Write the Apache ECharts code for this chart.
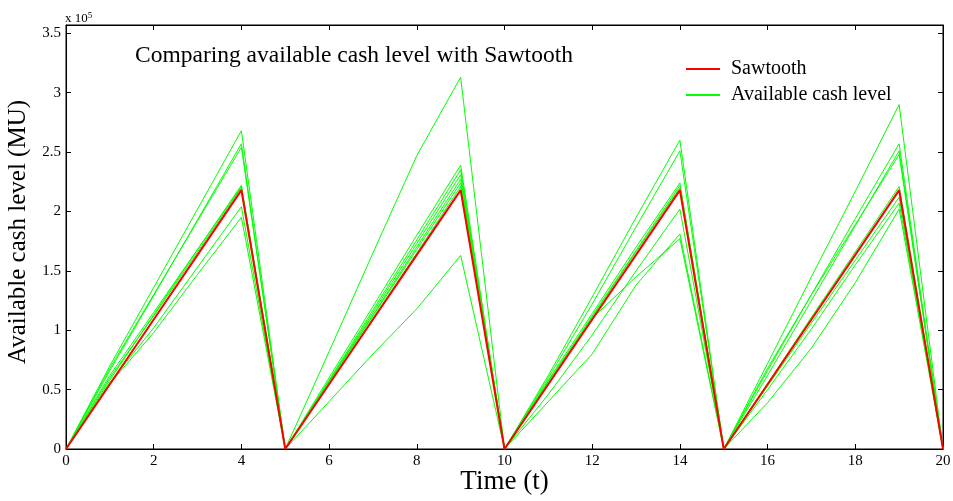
<!DOCTYPE html>
<html>
<head>
<meta charset="utf-8">
<script src="https://cdn.jsdelivr.net/npm/echarts@6/dist/echarts.min.js"></script>
<style>
  html, body { margin: 0; padding: 0; background: #fff; }
  #chart { width: 953px; height: 501px; }
</style>
</head>
<body>
<div id="chart"></div>
<script>
// Time steps (t)
const times = [0,1,2,3,4,5,6,7,8,9,10,11,12,13,14,15,16,17,18,19,20];

// Sawtooth cash level (MU)
const sawtooth = [0,54500,109000,163500,218000, 0,54500,109000,163500,218000,
                  0,54500,109000,163500,218000, 0,54500,109000,163500,218000, 0];

// Simulated available cash level paths (MU)
const cash1 = [0,70000,136000,202000,268000, 0,82000,165000,247000,313000,
               0,62000,128000,195000,260000, 0,72000,145000,217000,290000, 0];
const cash2 = [0,66000,129000,193000,257000, 0,40000,80000,118000,163000,
               0,60000,122000,187000,251000, 0,66000,130000,194000,257000, 0];
const cash3 = [0,68000,130000,192000,254000, 0,60000,120000,180000,239000,
               0,40000,80000,138000,181000, 0,62000,125000,188000,251000, 0];
const cash4 = [0,58000,113000,168000,222000, 0,58000,117000,176000,235000,
               0,58000,114000,170000,224000, 0,68000,130000,189000,248000, 0];
const cash5 = [0,62000,115000,168000,221000, 0,57000,115000,173000,231000,
               0,56000,112000,167000,222000, 0,55000,111000,166000,221000, 0];
const cash6 = [0,60000,112000,166000,220000, 0,57000,113000,170000,227000,
               0,57000,111000,166000,220000, 0,53000,106000,159000,212000, 0];
const cash7 = [0,56000,102000,153000,204000, 0,56000,112000,168000,224000,
               0,46000,96000,150000,202000, 0,50000,101000,155000,207000, 0];
const cash8 = [0,55000,98000,147000,195000, 0,55000,110000,165000,221000,
               0,55000,110000,145000,177000, 0,39000,85000,140000,202000, 0];

const cashPaths = [cash1, cash2, cash3, cash4, cash5, cash6, cash7, cash8];

// Axis ticks
const xTicks = { min: 0, max: 20, step: 2 };
const yTicks = { min: 0, max: 357000, step: 50000 };

const SERIF = '"Liberation Serif", "Times New Roman", serif';

const pairs = vals => vals.map((v, i) => [times[i], v]);

const series = cashPaths.map(p => ({
  name: 'Available cash level',
  type: 'line',
  data: pairs(p),
  showSymbol: false,
  symbol: 'none',
  lineStyle: { color: '#00ff00', width: 1 },
  itemStyle: { color: '#00ff00' },
  z: 2
}));
series.push({
  name: 'Sawtooth',
  type: 'line',
  data: pairs(sawtooth),
  showSymbol: false,
  symbol: 'none',
  lineStyle: { color: '#ff0000', width: 2 },
  itemStyle: { color: '#ff0000' },
  z: 3
});

const boxAxisLine = { show: true, onZero: false, lineStyle: { color: '#000', width: 1 } };
const innerTick = { show: true, inside: true, length: 5, lineStyle: { color: '#000' } };

const chart = echarts.init(document.getElementById('chart'));
chart.setOption({
  animation: false,
  backgroundColor: '#fff',
  title: {
    text: 'Comparing available cash level with Sawtooth',
    left: 130, top: 39,
    textStyle: { fontFamily: SERIF, fontWeight: 'normal', fontSize: 23.5, color: '#000' }
  },
  legend: {
    data: [
      { name: 'Sawtooth', icon: 'rect', itemStyle: { color: '#ff0000' } },
      { name: 'Available cash level', icon: 'rect', itemStyle: { color: '#00ff00' } }
    ],
    orient: 'vertical',
    left: 681, top: 54,
    itemWidth: 34, itemHeight: 2, itemGap: 6,
    textStyle: { fontFamily: SERIF, fontSize: 20, lineHeight: 16, color: '#000', padding: [0, 0, 0, 6] }
  },
  graphic: [{
    type: 'text',
    left: 65, top: 11,
    style: {
      text: 'x 10{sup|5}',
      fontFamily: SERIF, fontSize: 13, fill: '#000',
      rich: { sup: { fontFamily: SERIF, fontSize: 9, verticalAlign: 'top', padding: [0, 0, 7, 0] } }
    }
  }],
  grid: {
    left: 66, right: 10, top: 25, bottom: 52,
    outerBoundsMode: 'none', containLabel: false,
    show: true, borderColor: '#000', borderWidth: 1
  },
  xAxis: [{
    type: 'value', min: xTicks.min, max: xTicks.max, interval: xTicks.step,
    position: 'bottom',
    name: 'Time (t)', nameLocation: 'middle', nameGap: 19, nameMoveOverlap: false,
    nameTextStyle: { fontFamily: SERIF, fontSize: 27, color: '#000' },
    axisLine: boxAxisLine, axisTick: innerTick,
    axisLabel: { fontFamily: SERIF, fontSize: 15, color: '#000', margin: 5 },
    splitLine: { show: false }
  }, {
    type: 'value', min: xTicks.min, max: xTicks.max, interval: xTicks.step,
    position: 'top',
    axisLine: boxAxisLine, axisTick: innerTick,
    axisLabel: { show: false }, splitLine: { show: false }
  }],
  yAxis: [{
    type: 'value', min: yTicks.min, max: yTicks.max, interval: yTicks.step,
    position: 'left',
    name: 'Available cash level (MU)', nameLocation: 'middle', nameGap: 32,
    nameTextStyle: { fontFamily: SERIF, fontSize: 25, color: '#000', padding: [0, 0, 0, 10] },
    axisLine: boxAxisLine, axisTick: innerTick,
    axisLabel: {
      fontFamily: SERIF, fontSize: 15, color: '#000', margin: 5,
      formatter: v => (v % yTicks.step === 0 ? String(v / 1e5) : '')
    },
    splitLine: { show: false }
  }, {
    type: 'value', min: yTicks.min, max: yTicks.max, interval: yTicks.step,
    position: 'right',
    axisLine: boxAxisLine, axisTick: innerTick,
    axisLabel: { show: false }, splitLine: { show: false }
  }],
  series: series
});
</script>
</body>
</html>
